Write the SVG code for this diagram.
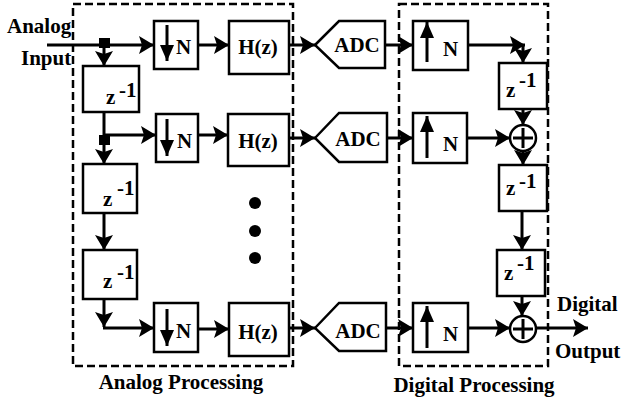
<svg xmlns="http://www.w3.org/2000/svg" width="621" height="403" viewBox="0 0 621 403">
<style>
.box{fill:#fff;stroke:#000;stroke-width:2.5}
.dash{fill:none;stroke:#000;stroke-width:2.5;stroke-dasharray:8 4}
.w{fill:none;stroke:#000;stroke-width:3}
.t{font-family:"Liberation Serif","Times New Roman",serif;font-weight:bold;font-size:21px;fill:#000}
.m{text-anchor:middle}
.dot{fill:#000}
</style>
<defs>
<marker id="ah" markerUnits="userSpaceOnUse" markerWidth="16" markerHeight="18" refX="15" refY="9" orient="auto" overflow="visible">
<path d="M0,0 L15,9 L0,18 L3,9 z" fill="#000"/>
</marker>
<marker id="ahs" markerUnits="userSpaceOnUse" markerWidth="17" markerHeight="14" refX="16" refY="7" orient="auto" overflow="visible">
<path d="M0,0 L16,7 L0,14 z" fill="#000"/>
</marker>
</defs>

<g id="regions">
<rect class="dash" x="73" y="4" width="220" height="362"/>
<rect class="dash" x="399" y="4" width="149" height="362"/>
<text class="t m" x="181" y="389">Analog Processing</text>
<text class="t m" x="474" y="392">Digital Processing</text>
</g>

<g id="io-labels">
<text class="t" x="7" y="33">Analog</text>
<text class="t" x="21" y="65">Input</text>
<text class="t" x="557" y="311">Digital</text>
<text class="t" x="555" y="358">Output</text>
</g>

<g id="connectors">
<line class="w" x1="47" y1="45" x2="154" y2="45" marker-end="url(#ah)"/>
<rect x="99" y="38" width="11" height="10" fill="#000"/>
<line class="w" x1="104" y1="45" x2="104" y2="66" marker-end="url(#ah)"/>
<line class="w" x1="104" y1="112" x2="104" y2="136"/>
<line class="w" x1="104" y1="135" x2="156" y2="135" marker-end="url(#ah)"/>
<rect x="99" y="135" width="11" height="10" fill="#000"/>
<line class="w" x1="104" y1="140" x2="104" y2="164" marker-end="url(#ah)"/>
<line class="w" x1="104" y1="213" x2="104" y2="250" marker-end="url(#ah)"/>
<line class="w" x1="104" y1="299" x2="104" y2="327" marker-end="url(#ah)"/>
<line class="w" x1="103" y1="328" x2="154" y2="328" marker-end="url(#ah)"/>

<line class="w" x1="198" y1="45" x2="229" y2="45" marker-end="url(#ah)"/>
<line class="w" x1="198" y1="135" x2="228" y2="135" marker-end="url(#ah)"/>
<line class="w" x1="198" y1="329" x2="229" y2="329" marker-end="url(#ah)"/>

<line class="w" x1="289" y1="45" x2="315" y2="45" marker-end="url(#ah)"/>
<line class="w" x1="289" y1="138" x2="315" y2="138" marker-end="url(#ah)"/>
<line class="w" x1="289" y1="328" x2="315" y2="328" marker-end="url(#ah)"/>

<line class="w" x1="385" y1="45" x2="413" y2="45" marker-end="url(#ah)"/>
<line class="w" x1="387" y1="138" x2="413" y2="138" marker-end="url(#ah)"/>
<line class="w" x1="386" y1="328" x2="413" y2="328" marker-end="url(#ah)"/>

<line class="w" x1="468" y1="45" x2="525" y2="45" marker-end="url(#ah)"/>
<line class="w" x1="523" y1="45" x2="523" y2="63" marker-end="url(#ah)"/>
<line class="w" x1="523" y1="109" x2="523" y2="125" marker-end="url(#ah)"/>
<line class="w" x1="467" y1="138" x2="510" y2="138" marker-end="url(#ah)"/>
<line class="w" x1="523" y1="151" x2="523" y2="165" marker-end="url(#ah)"/>
<line class="w" x1="522" y1="211" x2="522" y2="250" marker-end="url(#ah)"/>
<line class="w" x1="522" y1="296" x2="522" y2="316" marker-end="url(#ah)"/>
<line class="w" x1="468" y1="328" x2="510" y2="328" marker-end="url(#ah)"/>
<line class="w" x1="536" y1="328" x2="588" y2="328" marker-end="url(#ah)"/>
</g>

<g id="down1"><rect class="box" x="154" y="21" width="44" height="48"/><line class="w" x1="167" y1="25" x2="167" y2="61" marker-end="url(#ahs)"/><text class="t" x="176" y="54">N</text></g>
<g id="down2"><rect class="box" x="156" y="114" width="42" height="48"/><line class="w" x1="167" y1="119" x2="167" y2="156" marker-end="url(#ahs)"/><text class="t" x="177" y="148">N</text></g>
<g id="down3"><rect class="box" x="154" y="303" width="44" height="49"/><line class="w" x1="167" y1="309" x2="167" y2="346" marker-end="url(#ahs)"/><text class="t" x="176" y="338">N</text></g>

<g id="hz1"><rect class="box" x="229" y="21" width="60" height="53"/><text class="t m" x="258" y="54">H(z)</text></g>
<g id="hz2"><rect class="box" x="228" y="114" width="61" height="52"/><text class="t m" x="258" y="148">H(z)</text></g>
<g id="hz3"><rect class="box" x="229" y="303" width="60" height="53"/><text class="t m" x="258" y="339">H(z)</text></g>

<g id="adc1"><polygon class="box" points="315,45 339,21 385,21 385,68 339,68"/><text class="t m" x="357" y="52">ADC</text></g>
<g id="adc2"><polygon class="box" points="315,138 339,113 387,113 387,162 339,162"/><text class="t m" x="358" y="146">ADC</text></g>
<g id="adc3"><polygon class="box" points="315,328 339,303 386,303 386,351 339,351"/><text class="t m" x="358" y="338">ADC</text></g>

<g id="up1"><rect class="box" x="413" y="21" width="55" height="49"/><line class="w" x1="427" y1="62" x2="427" y2="22" marker-end="url(#ahs)"/><text class="t" x="443" y="56">N</text></g>
<g id="up2"><rect class="box" x="413" y="113" width="54" height="50"/><line class="w" x1="427" y1="158" x2="427" y2="116" marker-end="url(#ahs)"/><text class="t" x="443" y="151">N</text></g>
<g id="up3"><rect class="box" x="413" y="303" width="55" height="49"/><line class="w" x1="427" y1="348" x2="427" y2="306" marker-end="url(#ahs)"/><text class="t" x="443" y="341">N</text></g>

<g id="az1"><rect class="box" x="83" y="66" width="56" height="46"/><text class="t" x="106" y="104">z</text><text class="t" x="119" y="97">-1</text></g>
<g id="az2"><rect class="box" x="83" y="164" width="54" height="49"/><text class="t" x="103" y="206">z</text><text class="t" x="117" y="195">-1</text></g>
<g id="az3"><rect class="box" x="83" y="250" width="54" height="49"/><text class="t" x="103" y="288">z</text><text class="t" x="117" y="279">-1</text></g>

<g id="dz1"><rect class="box" x="499" y="63" width="48" height="46"/><text class="t" x="506" y="97">z</text><text class="t" x="519" y="87">-1</text></g>
<g id="dz2"><rect class="box" x="499" y="165" width="48" height="46"/><text class="t" x="506" y="195">z</text><text class="t" x="519" y="188">-1</text></g>
<g id="dz3"><rect class="box" x="497" y="250" width="48" height="46"/><text class="t" x="504" y="280">z</text><text class="t" x="517" y="270">-1</text></g>

<g id="sum1"><circle class="box" cx="523" cy="138" r="13"/><line class="w" x1="513" y1="138" x2="533" y2="138"/><line class="w" x1="523" y1="128" x2="523" y2="148"/></g>
<g id="sum2"><circle class="box" cx="523" cy="329" r="13"/><line class="w" x1="513" y1="329" x2="533" y2="329"/><line class="w" x1="523" y1="319" x2="523" y2="339"/></g>

<g id="ellipsis">
<circle class="dot" cx="255" cy="203" r="6"/>
<circle class="dot" cx="255" cy="231" r="6"/>
<circle class="dot" cx="255" cy="258" r="6"/>
</g>
</svg>
